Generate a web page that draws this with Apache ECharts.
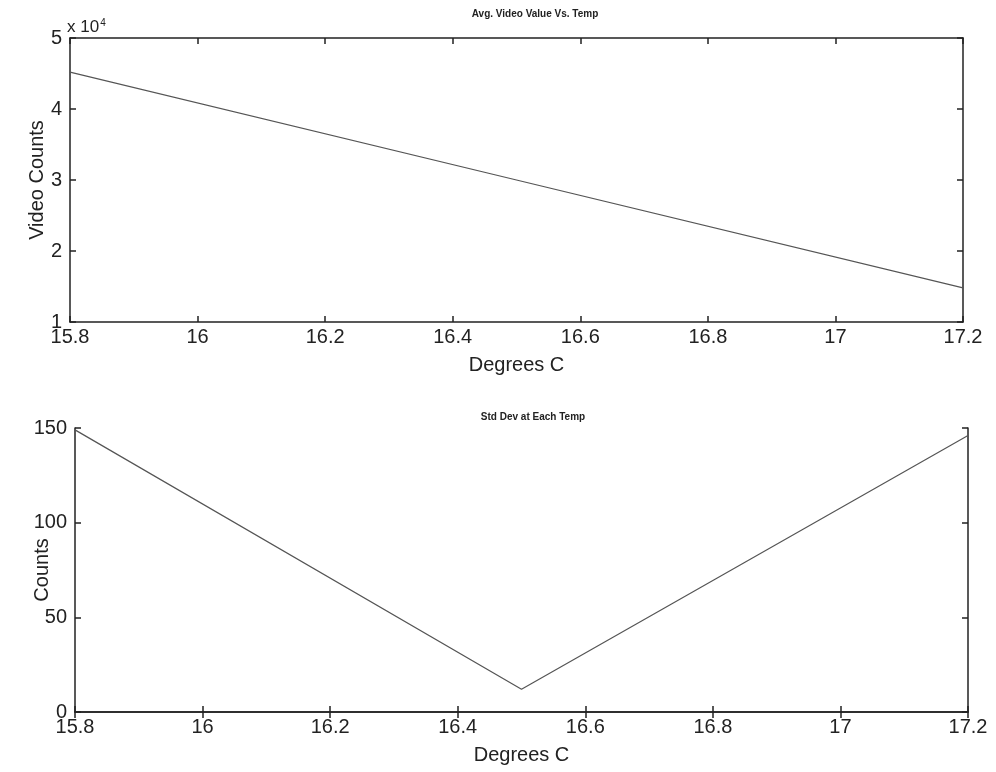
<!DOCTYPE html>
<html>
<head>
<meta charset="utf-8">
<script src="https://cdn.jsdelivr.net/npm/echarts@6/dist/echarts.min.js"></script>
<style>
  html, body { margin: 0; padding: 0; background: #fff; }
  #chart { width: 996px; height: 772px; }
</style>
</head>
<body>
<div id="chart"></div>
<script>
// temperatures (deg C)
const temps = [15.8, 16.5, 17.2];
// average video counts at each temp
const avgVideo = [45200, 30000, 14800];
// std dev at each temp
const stdDev = [149, 12, 146];

const xTicks = { min: 15.8, max: 17.2, interval: 0.2 };
const topY = { min: 10000, max: 50000, interval: 10000 };
const botY = { min: 0, max: 150, interval: 50 };

const font = 'Liberation Sans, Arial, sans-serif';
const ink = '#222';

const pairs = (xs, ys) => xs.map((x, i) => [x, ys[i]]);

const tick = { show: true, inside: true, length: 6, lineStyle: { color: ink, width: 1.5 } };
const axLine = { show: true, lineStyle: { color: ink, width: 1.5 } };

const xAxisFor = (gi, withName) => ([
  {
    gridIndex: gi, type: 'value', position: 'bottom',
    min: xTicks.min, max: xTicks.max, interval: xTicks.interval,
    axisLine: axLine, axisTick: tick, splitLine: { show: false },
    axisLabel: {
      color: ink, fontSize: 20, fontFamily: font, margin: 5,
      formatter: v => String(+v.toFixed(1))
    },
    name: withName, nameLocation: 'middle', nameGap: 33, nameMoveOverlap: false,
    nameTextStyle: { color: ink, fontSize: 20, fontFamily: font }
  },
  {
    gridIndex: gi, type: 'value', position: 'top',
    min: xTicks.min, max: xTicks.max, interval: xTicks.interval,
    axisLine: axLine, axisTick: tick, axisLabel: { show: false }, splitLine: { show: false }
  }
]);

const yAxisFor = (gi, rng, name, fmt, gap) => ([
  {
    gridIndex: gi, type: 'value', position: 'left',
    min: rng.min, max: rng.max, interval: rng.interval,
    axisLine: axLine, axisTick: tick, splitLine: { show: false },
    axisLabel: { color: ink, fontSize: 20, fontFamily: font, margin: 8, formatter: fmt },
    name: name, nameLocation: 'middle', nameGap: gap, nameMoveOverlap: false,
    nameTextStyle: { color: ink, fontSize: 20, fontFamily: font }
  },
  {
    gridIndex: gi, type: 'value', position: 'right',
    min: rng.min, max: rng.max, interval: rng.interval,
    axisLine: axLine, axisTick: tick, axisLabel: { show: false }, splitLine: { show: false }
  }
]);

const myChart = echarts.init(document.getElementById('chart'));

const option = {
  backgroundColor: '#fff',
  animation: false,
  title: [
    {
      text: 'Avg. Video Value Vs. Temp', left: 530, top: 4, textAlign: 'center',
      textStyle: { fontSize: 10, fontWeight: 'bold', color: ink, fontFamily: font }
    },
    {
      text: 'Std Dev at Each Temp', left: 528, top: 407, textAlign: 'center',
      textStyle: { fontSize: 10, fontWeight: 'bold', color: ink, fontFamily: font }
    }
  ],
  grid: [
    { left: 70, right: 33, top: 38, height: 284, outerBoundsMode: 'none' },
    { left: 75, right: 28, top: 428, height: 284, outerBoundsMode: 'none' }
  ],
  xAxis: [...xAxisFor(0, 'Degrees C'), ...xAxisFor(1, 'Degrees C')],
  yAxis: [
    ...yAxisFor(0, topY, 'Video Counts', v => String(v / 10000), 23),
    ...yAxisFor(1, botY, 'Counts', v => String(v), 23)
  ],
  graphic: [
    {
      type: 'text', left: 67, top: 18,
      style: {
        text: '{b|x 10}{s|4}',
        rich: {
          b: { fontSize: 17, fontFamily: font, fill: ink, verticalAlign: 'bottom' },
          s: { fontSize: 10, fontFamily: font, fill: ink, verticalAlign: 'top', padding: [0, 0, 8, 1] }
        }
      }
    }
  ],
  series: [
    {
      type: 'line', xAxisIndex: 0, yAxisIndex: 0,
      data: pairs(temps, avgVideo), showSymbol: false,
      lineStyle: { color: '#555', width: 1.2 }
    },
    {
      type: 'line', xAxisIndex: 2, yAxisIndex: 2,
      data: pairs(temps, stdDev), showSymbol: false,
      lineStyle: { color: '#555', width: 1.2 }
    }
  ]
};

myChart.setOption(option);
</script>
</body>
</html>
